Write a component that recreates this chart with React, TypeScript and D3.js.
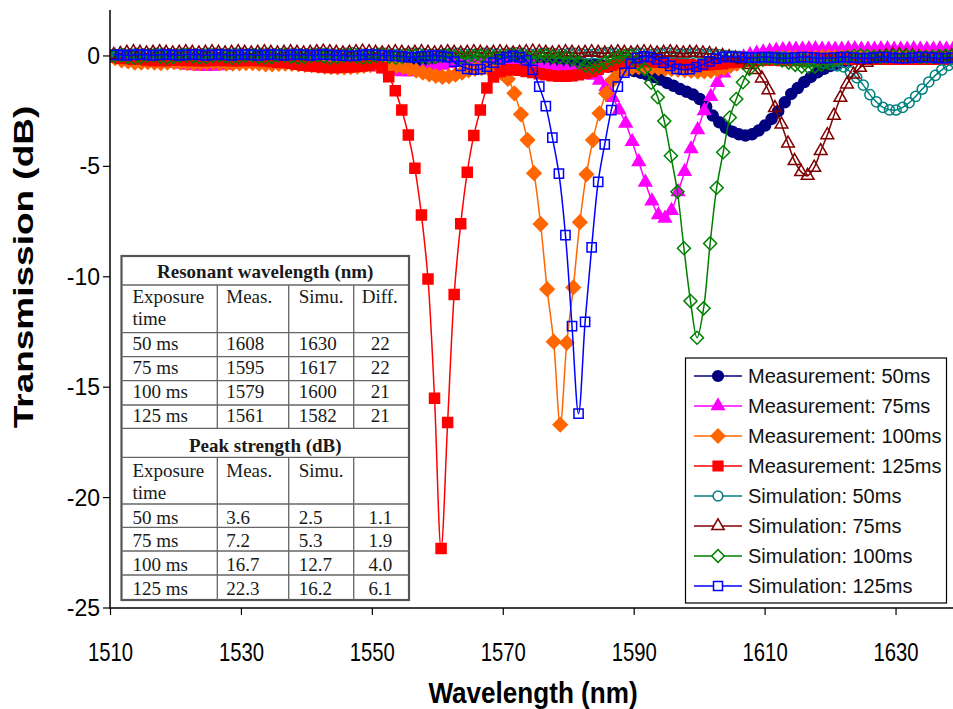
import React, { useEffect, useRef } from "react";
import * as d3 from "d3";

// axis ticks
const xTicks = [1510, 1530, 1550, 1570, 1590, 1610, 1630];
const yTicks = [0, -5, -10, -15, -20, -25];

// legend labels, one per series
const seriesNames = [
  "Measurement: 50ms",
  "Measurement: 75ms",
  "Measurement: 100ms",
  "Measurement: 125ms",
  "Simulation: 50ms",
  "Simulation: 75ms",
  "Simulation: 100ms",
  "Simulation: 125ms",
];

// first wavelength (nm) of each series, samples are 1 nm apart
const seriesStarts = [1510, 1510.7, 1510.7, 1510.5, 1510, 1510.5, 1510.6, 1510.5];

// transmission (dB)
const meas50 = [
  0, -0.05, -0.1, -0.12, -0.15, -0.15, -0.18, -0.2, -0.2, -0.22,
  -0.22, -0.25, -0.25, -0.28, -0.3, -0.3, -0.28, -0.25, -0.25, -0.22,
  -0.2, -0.2, -0.18, -0.18, -0.2, -0.22, -0.2, -0.18, -0.15, -0.15,
  -0.15, -0.18, -0.2, -0.2, -0.2, -0.18, -0.15, -0.15, -0.18, -0.2,
  -0.2, -0.22, -0.25, -0.25, -0.22, -0.2, -0.2, -0.22, -0.25, -0.25,
  -0.25, -0.22, -0.2, -0.2, -0.22, -0.25, -0.28, -0.3, -0.3, -0.3,
  -0.28, -0.28, -0.3, -0.3, -0.32, -0.32, -0.33, -0.35, -0.35, -0.36,
  -0.37, -0.38, -0.4, -0.4, -0.4, -0.42, -0.48, -0.52, -0.56, -0.62,
  -0.68, -0.76, -0.86, -0.95, -1.07, -1.22, -1.35, -1.5, -1.62, -1.75,
  -1.95, -2.3, -2.7, -3.0, -3.25, -3.43, -3.55, -3.6, -3.55, -3.38,
  -3.15, -2.85, -2.5, -2.1, -1.72, -1.45, -1.18, -0.95, -0.74, -0.58,
  -0.45, -0.35, -0.25, -0.18, -0.12, -0.08, -0.05, -0.03, -0.02, 0,
  0, 0, 0.02, 0.02, 0.02, 0, 0, 0.02, 0.02, 0.02,
];

const meas75 = [
  0, -0.05, -0.08, -0.1, -0.12, -0.15, -0.18, -0.22, -0.28, -0.33,
  -0.38, -0.42, -0.45, -0.47, -0.48, -0.47, -0.45, -0.42, -0.38, -0.32,
  -0.27, -0.22, -0.2, -0.18, -0.18, -0.2, -0.22, -0.25, -0.27, -0.28,
  -0.3, -0.3, -0.28, -0.25, -0.22, -0.2, -0.22, -0.28, -0.35, -0.42,
  -0.5, -0.58, -0.65, -0.7, -0.72, -0.72, -0.7, -0.65, -0.58, -0.5,
  -0.42, -0.35, -0.3, -0.28, -0.28, -0.3, -0.33, -0.35, -0.38, -0.4,
  -0.42, -0.45, -0.48, -0.5, -0.52, -0.55, -0.58, -0.6, -0.62, -0.65,
  -0.68, -0.72, -0.78, -0.88, -1.1, -1.39, -1.88, -2.45, -3.05, -3.88,
  -4.79, -5.72, -6.57, -7.2, -7.35, -7.0, -6.15, -5.24, -4.21, -3.35,
  -2.48, -1.84, -1.21, -0.78, -0.45, -0.2, -0.05, 0.05, 0.12, 0.18,
  0.22, 0.25, 0.28, 0.3, 0.3, 0.3, 0.32, 0.32, 0.3, 0.3,
  0.3, 0.3, 0.32, 0.32, 0.3, 0.3, 0.3, 0.32, 0.32, 0.3,
  0.3, 0.3, 0.32, 0.3, 0.3, 0.3, 0.32, 0.3, 0.3, 0.3,
];

const meas100 = [
  -0.1, -0.2, -0.25, -0.3, -0.3, -0.28, -0.3, -0.32, -0.3, -0.28,
  -0.3, -0.32, -0.33, -0.32, -0.3, -0.3, -0.32, -0.35, -0.35, -0.33,
  -0.32, -0.32, -0.35, -0.38, -0.38, -0.36, -0.35, -0.36, -0.38, -0.4,
  -0.42, -0.45, -0.48, -0.5, -0.52, -0.52, -0.5, -0.48, -0.45, -0.42,
  -0.4, -0.4, -0.42, -0.45, -0.5, -0.58, -0.66, -0.75, -0.83, -0.9,
  -0.95, -0.92, -0.85, -0.75, -0.65, -0.58, -0.55, -0.55, -0.6, -0.75,
  -1.04, -1.69, -2.64, -3.81, -5.31, -7.61, -10.56, -12.94, -16.7, -12.99,
  -10.48, -7.53, -5.36, -3.81, -2.6, -1.69, -1.1, -0.78, -0.6, -0.52,
  -0.5, -0.5, -0.52, -0.55, -0.58, -0.6, -0.62, -0.65, -0.68, -0.7,
  -0.7, -0.68, -0.62, -0.55, -0.45, -0.35, -0.28, -0.22, -0.18, -0.15,
  -0.12, -0.1, -0.1, -0.08, -0.08, -0.1, -0.1, -0.08, -0.05, -0.05,
  -0.05, -0.05, -0.05, -0.05, -0.05, -0.05, -0.05, -0.05, -0.05, -0.05,
  -0.05, -0.05, -0.05, -0.05, -0.05, -0.05, -0.05, -0.05, -0.05, -0.05,
];

const meas125 = [
  -0.05, -0.1, -0.12, -0.15, -0.15, -0.18, -0.2, -0.2, -0.2, -0.18,
  -0.18, -0.2, -0.2, -0.22, -0.22, -0.2, -0.2, -0.2, -0.22, -0.22,
  -0.2, -0.2, -0.2, -0.22, -0.25, -0.28, -0.3, -0.33, -0.38, -0.42,
  -0.45, -0.48, -0.5, -0.52, -0.52, -0.5, -0.5, -0.48, -0.45, -0.42,
  -0.35, -0.53, -0.94, -1.57, -2.45, -3.58, -5.09, -7.2, -10.1, -15.5,
  -22.3, -16.6, -10.8, -7.6, -5.27, -3.6, -2.45, -1.45, -0.95, -0.7,
  -0.62, -0.62, -0.65, -0.7, -0.75, -0.8, -0.85, -0.9, -0.92, -0.92,
  -0.9, -0.85, -0.78, -0.7, -0.6, -0.5, -0.42, -0.35, -0.3, -0.28,
  -0.25, -0.25, -0.25, -0.28, -0.3, -0.32, -0.35, -0.38, -0.4, -0.42,
  -0.42, -0.4, -0.38, -0.35, -0.3, -0.28, -0.25, -0.22, -0.2, -0.18,
  -0.18, -0.18, -0.2, -0.2, -0.2, -0.18, -0.18, -0.15, -0.15, -0.15,
  -0.15, -0.15, -0.15, -0.15, -0.15, -0.15, -0.15, -0.15, -0.15, -0.15,
  -0.15, -0.15, -0.15, -0.15, -0.15, -0.15, -0.15, -0.15, -0.15, -0.15,
];

const sim50 = [
  0, 0.05, 0.1, 0.1, 0.12, 0.1, 0.1, 0.12, 0.12, 0.1,
  0.1, 0.12, 0.12, 0.1, 0.1, 0.12, 0.12, 0.1, 0.1, 0.12,
  0.12, 0.1, 0.1, 0.12, 0.12, 0.1, 0.1, 0.12, 0.12, 0.1,
  0.1, 0.12, 0.14, 0.12, 0.1, 0.1, 0.12, 0.14, 0.12, 0.1,
  0.1, 0.12, 0.12, 0.1, 0.08, 0.1, 0.12, 0.12, 0.1, 0.08,
  0.08, 0.1, 0.12, 0.12, 0.1, 0.08, 0.1, 0.12, 0.12, 0.1,
  0.1, 0.12, 0.14, 0.12, 0.1, 0.1, 0.12, 0.12, 0.1, 0.1,
  0.12, 0.12, 0.1, 0.08, 0.1, 0.12, 0.14, 0.12, 0.1, 0.1,
  0.12, 0.12, 0.1, 0.1, 0.12, 0.14, 0.12, 0.1, 0.1, 0.12,
  0.1, 0.1, 0.08, 0.05, 0.02, 0, -0.02, -0.05, -0.08, -0.1,
  -0.1, -0.08, -0.05, -0.05, -0.08, -0.12, -0.15, -0.2, -0.25, -0.32,
  -0.38, -0.45, -0.5, -0.72, -0.98, -1.32, -1.75, -2.08, -2.33, -2.44,
  -2.45, -2.33, -2.12, -1.83, -1.5, -1.18, -0.88, -0.63, -0.43, -0.3,
];

const sim75 = [
  0.05, 0.1, 0.15, 0.18, 0.15, 0.12, 0.15, 0.18, 0.15, 0.12,
  0.15, 0.18, 0.15, 0.12, 0.15, 0.18, 0.15, 0.12, 0.15, 0.18,
  0.15, 0.12, 0.15, 0.18, 0.15, 0.12, 0.15, 0.18, 0.15, 0.12,
  0.15, 0.18, 0.2, 0.18, 0.15, 0.12, 0.15, 0.18, 0.2, 0.18,
  0.15, 0.12, 0.15, 0.18, 0.15, 0.12, 0.15, 0.18, 0.15, 0.12,
  0.15, 0.18, 0.15, 0.12, 0.15, 0.18, 0.15, 0.12, 0.15, 0.18,
  0.15, 0.12, 0.15, 0.18, 0.2, 0.18, 0.15, 0.12, 0.15, 0.18,
  0.15, 0.12, 0.15, 0.18, 0.15, 0.12, 0.15, 0.18, 0.15, 0.12,
  0.15, 0.18, 0.15, 0.12, 0.15, 0.18, 0.15, 0.12, 0.15, 0.15,
  0.12, 0.1, 0.05, 0, -0.05, -0.1, -0.18, -0.4, -0.63, -1.01,
  -1.55, -2.35, -3.1, -3.96, -4.75, -5.25, -5.42, -5.05, -4.3, -3.58,
  -2.7, -1.89, -1.28, -0.83, -0.53, -0.3, -0.15, -0.05, 0, 0.05,
  0.05, 0.02, 0, -0.05, -0.08, -0.1, -0.08, -0.05, 0, 0.02,
];

const sim100 = [
  0, 0.02, -0.05, -0.08, -0.05, 0, 0.02, -0.03, -0.08, -0.05,
  0, 0.03, -0.02, -0.07, -0.06, 0, 0.02, -0.03, -0.08, -0.05,
  0, 0.02, -0.04, -0.08, -0.05, 0.01, 0.03, -0.03, -0.07, -0.05,
  0, 0.02, -0.03, -0.08, -0.06, 0, 0.02, -0.02, -0.08, -0.05,
  0, 0.03, -0.03, -0.08, -0.05, 0, 0.02, -0.03, -0.07, -0.05,
  0, 0.02, -0.03, -0.08, -0.05, 0.01, 0.02, -0.03, -0.08, -0.06,
  0, 0.02, -0.03, -0.07, -0.05, 0, 0.03, -0.03, -0.08, -0.05,
  -0.15, -0.3, -0.45, -0.5, -0.45, -0.3, -0.15, -0.05, 0, 0.02,
  -0.35, -0.6, -1.21, -1.87, -2.95, -4.52, -6.15, -8.71, -11.1, -12.76,
  -11.43, -8.49, -5.97, -4.36, -2.79, -1.95, -1.19, -0.59, -0.3, -0.15,
  -0.1, -0.12, -0.2, -0.3, -0.4, -0.48, -0.5, -0.48, -0.4, -0.3,
  -0.2, -0.1, -0.05, 0, 0.02, 0, -0.03, -0.05, -0.03, 0,
  0.02, 0, -0.02, -0.05, -0.05, -0.03, 0, 0.02, 0, -0.02,
];

const sim125 = [
  0.05, 0.05, 0.03, 0.05, 0.06, 0.05, 0.03, 0.05, 0.06, 0.05,
  0.03, 0.05, 0.06, 0.05, 0.03, 0.05, 0.06, 0.05, 0.03, 0.05,
  0.06, 0.05, 0.03, 0.05, 0.06, 0.05, 0.03, 0.05, 0.06, 0.05,
  0.03, 0.05, 0.06, 0.05, 0.03, 0.02, 0, 0.02, 0.05, 0.06,
  0.05, 0.03, 0.02, 0, -0.02, -0.05, -0.05, -0.02, 0, 0.02,
  0, -0.05, -0.26, -0.45, -0.58, -0.62, -0.6, -0.48, -0.3, -0.15,
  -0.05, 0, -0.05, -0.2, -0.63, -1.39, -2.27, -3.7, -5.33, -8.11,
  -12.23, -16.2, -12.04, -8.67, -5.7, -4.0, -2.45, -1.39, -0.76, -0.35,
  -0.1, -0.02, -0.05, -0.15, -0.3, -0.45, -0.58, -0.62, -0.6, -0.5,
  -0.38, -0.25, -0.12, -0.05, -0.03, -0.05, -0.05, -0.08, -0.08, -0.05,
  -0.05, -0.08, -0.1, -0.1, -0.08, -0.05, -0.05, -0.08, -0.1, -0.1,
  -0.08, -0.05, -0.05, -0.08, -0.1, -0.1, -0.08, -0.05, -0.05, -0.08,
  -0.1, -0.1, -0.08, -0.05, -0.05, -0.08, -0.1, -0.1, -0.08, -0.05,
];

const seriesValues = [meas50, meas75, meas100, meas125, sim50, sim75, sim100, sim125];

// inset table text
const resHeader = ["Exposure time", "Meas.", "Simu.", "Diff."];
const resRows = [
  ["50 ms", "1608", "1630", "22"],
  ["75 ms", "1595", "1617", "22"],
  ["100 ms", "1579", "1600", "21"],
  ["125 ms", "1561", "1582", "21"],
];
const peakHeader = ["Exposure time", "Meas.", "Simu.", ""];
const peakRows = [
  ["50 ms", "3.6", "2.5", "1.1"],
  ["75 ms", "7.2", "5.3", "1.9"],
  ["100 ms", "16.7", "12.7", "4.0"],
  ["125 ms", "22.3", "16.2", "6.1"],
];

// marker styles
const styles = [
  { color: "#000080", shape: "circle", filled: true, size: 95 },
  { color: "#FF00FF", shape: "triangle", filled: true, size: 70 },
  { color: "#FF6600", shape: "diamond", filled: true, size: 100 },
  { color: "#FF0000", shape: "square", filled: true, size: 100 },
  { color: "#008080", shape: "circle", filled: false, size: 80 },
  { color: "#800000", shape: "triangle", filled: false, size: 70 },
  { color: "#008000", shape: "diamond", filled: false, size: 85 },
  { color: "#0000FF", shape: "square", filled: false, size: 85 },
];

const W = 953;
const H = 709;
const SANS = "'Liberation Sans', Arial, sans-serif";
const SERIF = "'Liberation Serif', 'Times New Roman', serif";

function symbolFor(shape: string) {
  if (shape === "circle") return d3.symbolCircle;
  if (shape === "triangle") return d3.symbolTriangle;
  return d3.symbolSquare;
}

export default function App() {
  const ref = useRef<SVGSVGElement>(null);

  useEffect(() => {
    const svg = d3.select(ref.current);
    svg.selectAll("*").remove();

    const x = d3.scaleLinear().domain([1510, 1640]).range([110.5, 961.5]);
    const y = d3.scaleLinear().domain([-25, 2]).range([608, 11.8]);

    svg.append("rect").attr("width", W).attr("height", H).attr("fill", "white");

    svg.append("defs").append("clipPath").attr("id", "plotClip")
      .append("rect").attr("x", 110).attr("y", 0).attr("width", 860).attr("height", 608);

    const line = d3.line<[number, number]>()
      .x(d => x(d[0]))
      .y(d => y(d[1]))
      .curve(d3.curveCatmullRom);

    const plot = svg.append("g").attr("clip-path", "url(#plotClip)");

    seriesValues.forEach((vals, k) => {
      const st = styles[k];
      const pts: [number, number][] = vals.map((v, i) => [seriesStarts[k] + i, v]);
      plot.append("path")
        .datum(pts)
        .attr("d", line)
        .attr("fill", "none")
        .attr("stroke", st.color)
        .attr("stroke-width", 1.5);
      const sym = d3.symbol().type(symbolFor(st.shape)).size(st.size);
      plot.append("g").selectAll("path")
        .data(pts)
        .join("path")
        .attr("transform", d => `translate(${x(d[0])},${y(d[1])})${st.shape === "diamond" ? " rotate(45)" : ""}`)
        .attr("d", sym()!)
        .attr("fill", st.filled ? st.color : "none")
        .attr("stroke", st.color)
        .attr("stroke-width", 1.5);
    });

    // axes
    const axes = svg.append("g");
    axes.append("line").attr("x1", 110).attr("x2", W).attr("y1", 608).attr("y2", 608)
      .attr("stroke", "black").attr("stroke-width", 1.5);
    axes.append("line").attr("x1", 110).attr("x2", 110).attr("y1", 10).attr("y2", 608.7)
      .attr("stroke", "black").attr("stroke-width", 1.5);

    axes.selectAll(".xt").data(xTicks).join("line")
      .attr("x1", d => x(d)).attr("x2", d => x(d)).attr("y1", 608).attr("y2", 615)
      .attr("stroke", "black").attr("stroke-width", 1.2);
    axes.selectAll(".xl").data(xTicks).join("text")
      .attr("transform", d => `translate(${x(d)},661) scale(0.78,1)`)
      .attr("text-anchor", "middle")
      .style("font-family", SANS).style("font-size", "26px")
      .text(d => d);

    axes.selectAll(".yt").data(yTicks).join("line")
      .attr("x1", 103).attr("x2", 110).attr("y1", d => y(d)).attr("y2", d => y(d))
      .attr("stroke", "black").attr("stroke-width", 1.2);
    axes.selectAll(".yl").data(yTicks).join("text")
      .attr("x", 100).attr("y", d => y(d) + 8)
      .attr("text-anchor", "end")
      .style("font-family", SANS).style("font-size", "23px")
      .text(d => d);

    svg.append("text")
      .attr("transform", "translate(533,703) scale(0.9,1)")
      .attr("text-anchor", "middle")
      .style("font-family", SANS).style("font-size", "29px").style("font-weight", "bold")
      .text("Wavelength (nm)");
    svg.append("text")
      .attr("transform", "translate(33,267) rotate(-90) scale(1.37,1)")
      .attr("text-anchor", "middle")
      .style("font-family", SANS).style("font-size", "27px").style("font-weight", "bold")
      .text("Transmission (dB)");

    // inset table
    const tb = svg.append("g");
    const colX = [121.5, 217.3, 288.7, 353.7, 409];
    const rowY = [256, 285, 332.7, 356.7, 380.7, 405, 428.3, 457.3, 504, 527.3, 551, 575, 600];
    tb.append("rect").attr("x", colX[0]).attr("y", rowY[0])
      .attr("width", colX[4] - colX[0]).attr("height", rowY[12] - rowY[0])
      .attr("fill", "white").attr("stroke", "#555").attr("stroke-width", 2.2);
    rowY.slice(1, 12).forEach(ry => {
      tb.append("line").attr("x1", colX[0]).attr("x2", colX[4]).attr("y1", ry).attr("y2", ry)
        .attr("stroke", "#666").attr("stroke-width", 1.3);
    });
    [1, 2, 3].forEach(c => {
      [[rowY[1], rowY[6]], [rowY[7], rowY[12]]].forEach(([a, b]) => {
        tb.append("line").attr("x1", colX[c]).attr("x2", colX[c]).attr("y1", a).attr("y2", b)
          .attr("stroke", "#666").attr("stroke-width", 1.3);
      });
    });
    const tText = (tx: number, ty: number, s: string, anchor = "start", bold = false) =>
      tb.append("text").attr("x", tx).attr("y", ty).attr("text-anchor", anchor)
        .style("font-family", SERIF).style("font-size", "19px")
        .style("font-weight", bold ? "bold" : "normal").attr("fill", "#1a1a1a").text(s);

    const drawBlock = (title: string, titleY: number, header: string[], rows: string[][], hY: number, firstRowY: number, step: number) => {
      tText((colX[0] + colX[4]) / 2, titleY, title, "middle", true);
      const [w1, w2] = header[0].split(" ");
      tText(colX[0] + 11, hY, w1);
      tText(colX[0] + 11, hY + 22, w2);
      tText(colX[1] + 9, hY, header[1]);
      tText(colX[2] + 10, hY, header[2]);
      if (header[3]) tText(colX[3] + 8, hY, header[3]);
      rows.forEach((r, i) => {
        const ry = firstRowY + i * step;
        tText(colX[0] + 11, ry, r[0]);
        tText(colX[1] + 9, ry, r[1]);
        tText(colX[2] + 10, ry, r[2]);
        tText((colX[3] + colX[4]) / 2 - 1, ry, r[3], "middle");
      });
    };
    drawBlock("Resonant wavelength (nm)", 278, resHeader, resRows, 303, 350, 24);
    drawBlock("Peak strength (dB)", 451.5, peakHeader, peakRows, 476.5, 523.5, 23.8);

    // legend
    const lg = svg.append("g");
    lg.append("rect").attr("x", 685.5).attr("y", 358).attr("width", 261).attr("height", 245)
      .attr("fill", "white").attr("stroke", "black").attr("stroke-width", 1.2);
    seriesNames.forEach((name, k) => {
      const st = styles[k];
      const ly = 376 + k * 30;
      lg.append("line").attr("x1", 694).attr("x2", 742).attr("y1", ly).attr("y2", ly)
        .attr("stroke", st.color).attr("stroke-width", 1.5);
      const sym = d3.symbol().type(symbolFor(st.shape)).size(st.size * 0.95);
      lg.append("path")
        .attr("transform", `translate(718,${ly})${st.shape === "diamond" ? " rotate(45)" : ""}`)
        .attr("d", sym()!)
        .attr("fill", st.filled ? st.color : "white")
        .attr("stroke", st.color).attr("stroke-width", 1.5);
      lg.append("text").attr("x", 748).attr("y", ly + 7)
        .style("font-family", SANS).style("font-size", "20px").attr("fill", "#111")
        .text(name);
    });
  }, []);

  return (
    <svg
      ref={ref}
      width={W}
      height={H}
      style={{ position: "absolute", left: 0, top: 0, display: "block" }}
    />
  );
}
